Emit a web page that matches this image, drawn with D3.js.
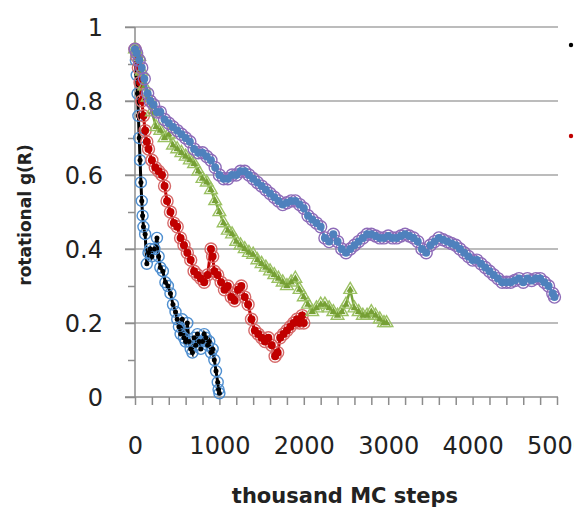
<!DOCTYPE html>
<html>
<head>
<meta charset="utf-8">
<script src="https://cdn.jsdelivr.net/npm/d3@7"></script>
<style>
  body { margin: 0; background: #fff; }
  svg { display: block; }
</style>
</head>
<body>
<script>
var svgWidth = 574;
var svgHeight = 508;

// axis ticks
var yMajor = [0, 0.2, 0.4, 0.6, 0.8, 1];
var yMinor = [0.1, 0.3, 0.5, 0.7, 0.9];
var xTicks = d3.range(0, 5001, 200);
var xLabels = [0, 1000, 2000, 3000, 4000, 5000];

// [thousand MC steps, g(R)]
var seriesBlack = [[0,0.94],[10,0.91],[20,0.87],[30,0.82],[40,0.76],[50,0.70],[60,0.64],[70,0.58],[80,0.53],
  [90,0.49],[100,0.46],[120,0.44],[140,0.36],[160,0.39],[180,0.40],[200,0.38],[230,0.40],[260,0.43],
  [280,0.38],[300,0.35],[330,0.34],[360,0.31],[390,0.30],[420,0.28],[450,0.25],[480,0.23],[500,0.21],
  [520,0.19],[540,0.17],[560,0.21],[580,0.16],[600,0.15],[620,0.20],[640,0.15],[660,0.13],[680,0.12],
  [700,0.16],[720,0.14],[740,0.17],[760,0.15],[780,0.13],[800,0.15],[820,0.17],[840,0.16],[860,0.14],
  [880,0.15],[900,0.12],[920,0.13],[940,0.10],[960,0.07],[980,0.04],[990,0.02],[1000,0.01]];

var seriesRed = [[0,0.94],[20,0.92],[40,0.89],[60,0.85],[80,0.80],[100,0.76],[120,0.72],[140,0.69],
  [160,0.67],[200,0.64],[240,0.62],[280,0.61],[320,0.60],[350,0.57],[380,0.53],[420,0.50],[460,0.47],
  [500,0.46],[540,0.43],[580,0.41],[620,0.39],[660,0.37],[700,0.34],[740,0.33],[780,0.32],[820,0.31],
  [860,0.33],[900,0.40],[920,0.38],[940,0.34],[980,0.33],[1020,0.31],[1060,0.29],[1100,0.30],[1140,0.27],
  [1180,0.26],[1220,0.29],[1260,0.30],[1300,0.27],[1340,0.25],[1380,0.21],[1420,0.18],[1460,0.17],
  [1500,0.16],[1540,0.15],[1580,0.16],[1620,0.14],[1660,0.11],[1690,0.12],[1720,0.16],[1760,0.17],
  [1800,0.18],[1840,0.19],[1880,0.20],[1920,0.21],[1950,0.20],[1980,0.22],[2000,0.20]];

var seriesGreen = [[0,0.94],[25,0.93],[50,0.92],[80,0.88],[110,0.84],[150,0.81],[200,0.77],[250,0.73],
  [300,0.72],[350,0.70],[400,0.71],[450,0.68],[500,0.67],[550,0.66],[600,0.65],[650,0.64],[700,0.63],
  [750,0.61],[800,0.59],[850,0.58],[900,0.56],[950,0.53],[1000,0.50],[1050,0.47],[1100,0.45],[1150,0.44],
  [1200,0.42],[1250,0.41],[1300,0.40],[1350,0.39],[1400,0.385],[1450,0.37],[1500,0.36],[1550,0.35],
  [1600,0.34],[1650,0.33],[1700,0.32],[1750,0.31],[1800,0.30],[1850,0.31],[1900,0.32],[1950,0.29],
  [2000,0.27],[2050,0.25],[2100,0.23],[2150,0.24],[2200,0.25],[2250,0.25],[2300,0.24],[2350,0.23],
  [2400,0.22],[2450,0.23],[2500,0.25],[2550,0.29],[2600,0.24],[2650,0.23],[2700,0.22],[2750,0.22],
  [2800,0.23],[2850,0.22],[2900,0.21],[2950,0.20],[2980,0.20]];

var seriesPurple = [[0,0.94],[20,0.93],[50,0.91],[80,0.89],[110,0.86],[150,0.82],[180,0.80],[220,0.79],
  [260,0.77],[300,0.77],[350,0.75],[400,0.74],[450,0.73],[500,0.72],[550,0.71],[600,0.70],[650,0.69],
  [700,0.67],[750,0.66],[800,0.66],[850,0.65],[900,0.64],[950,0.62],[1000,0.60],[1050,0.59],[1100,0.59],
  [1150,0.60],[1200,0.60],[1250,0.61],[1300,0.61],[1350,0.60],[1400,0.59],[1450,0.58],[1500,0.57],
  [1550,0.56],[1600,0.55],[1650,0.54],[1700,0.53],[1750,0.52],[1800,0.525],[1850,0.53],[1900,0.53],
  [1950,0.52],[2000,0.51],[2050,0.49],[2100,0.48],[2150,0.47],[2200,0.46],[2250,0.43],[2300,0.42],
  [2350,0.44],[2400,0.42],[2450,0.40],[2500,0.39],[2550,0.40],[2600,0.41],[2650,0.42],[2700,0.43],
  [2750,0.44],[2800,0.44],[2850,0.435],[2900,0.43],[2950,0.43],[3000,0.435],[3050,0.43],[3100,0.43],
  [3150,0.435],[3200,0.44],[3250,0.435],[3300,0.43],[3350,0.42],[3400,0.40],[3450,0.39],[3500,0.41],
  [3550,0.42],[3600,0.43],[3650,0.425],[3700,0.42],[3750,0.415],[3800,0.41],[3850,0.40],[3900,0.39],
  [3950,0.38],[4000,0.37],[4050,0.37],[4100,0.36],[4150,0.35],[4200,0.34],[4250,0.33],[4300,0.32],
  [4350,0.31],[4400,0.31],[4450,0.31],[4500,0.315],[4550,0.32],[4600,0.31],[4650,0.32],[4700,0.315],
  [4750,0.32],[4800,0.32],[4850,0.31],[4900,0.30],[4950,0.28],[4970,0.27]];

var x = d3.scaleLinear().domain([0, 5000]).range([135, 557]);
var y = d3.scaleLinear().domain([0, 1]).range([397, 27]);

var svg = d3.select("body").append("svg")
    .attr("width", svgWidth)
    .attr("height", svgHeight)
    .style("font-family", "'DejaVu Sans', sans-serif");

// horizontal gridlines
svg.selectAll(".grid")
    .data(yMajor.filter(d => d > 0)).enter()
    .append("line")
    .attr("x1", 125).attr("x2", 558)
    .attr("y1", d => y(d)).attr("y2", d => y(d))
    .attr("stroke", "#a6a6a6")
    .attr("stroke-width", 1.5);

// y axis
var yAxis = svg.append("g")
    .attr("transform", "translate(135,0)")
    .call(d3.axisLeft(y).tickValues(yMajor).tickSize(10).tickPadding(22)
        .tickFormat(d3.format("~g")));
yAxis.select(".domain").remove();
yAxis.selectAll("line").attr("stroke", "#8c8c8c").attr("stroke-width", 1.5);
yAxis.selectAll("text")
    .attr("font-size", 24).attr("font-family", "'DejaVu Sans', sans-serif")
    .attr("fill", "#222").attr("dy", "0.36em");

var yMinorAxis = svg.append("g")
    .attr("transform", "translate(135,0)")
    .call(d3.axisLeft(y).tickValues(yMinor).tickSize(7).tickFormat(""));
yMinorAxis.select(".domain").remove();
yMinorAxis.selectAll("line").attr("stroke", "#8c8c8c").attr("stroke-width", 1.5);

svg.append("line")
    .attr("x1", 135).attr("x2", 135)
    .attr("y1", y(1)).attr("y2", y(0))
    .attr("stroke", "#8c8c8c").attr("stroke-width", 1.5);

// x axis
var xAxis = svg.append("g")
    .attr("transform", "translate(0,397)")
    .call(d3.axisBottom(x).tickValues(xTicks).tickSize(8).tickPadding(32)
        .tickFormat(d => xLabels.indexOf(d) >= 0 ? d : ""));
xAxis.select(".domain").remove();
xAxis.selectAll("line").attr("stroke", "#8c8c8c").attr("stroke-width", 1.5);
xAxis.selectAll("text")
    .attr("font-size", 24).attr("font-family", "'DejaVu Sans', sans-serif")
    .attr("fill", "#222");

svg.append("line")
    .attr("x1", 125).attr("x2", 558)
    .attr("y1", y(0)).attr("y2", y(0))
    .attr("stroke", "#8c8c8c").attr("stroke-width", 1.5);

// axis titles
svg.append("text")
    .attr("x", 345).attr("y", 503)
    .attr("text-anchor", "middle")
    .attr("font-weight", "bold")
    .attr("font-size", 21)
    .attr("fill", "#222")
    .text("thousand MC steps");

svg.append("text")
    .attr("transform", "translate(31,215) rotate(-90)")
    .attr("text-anchor", "middle")
    .attr("font-weight", "bold")
    .attr("font-size", 17)
    .attr("fill", "#222")
    .text("rotational g(R)");

var line = d3.line().x(d => x(d[0])).y(d => y(d[1]));
var plot = svg.append("g");

function drawSeries(data, lineColor, dotColor, ringColor, dotR, ringR) {
    plot.append("path")
        .datum(data)
        .attr("d", line)
        .attr("fill", "none")
        .attr("stroke", lineColor)
        .attr("stroke-width", 3);
    plot.append("g").selectAll("circle")
        .data(data).enter()
        .append("circle")
        .attr("cx", d => x(d[0])).attr("cy", d => y(d[1]))
        .attr("r", ringR)
        .attr("fill", "none")
        .attr("stroke", ringColor)
        .attr("stroke-width", 1.4);
    plot.append("g").selectAll("circle")
        .data(data).enter()
        .append("circle")
        .attr("cx", d => x(d[0])).attr("cy", d => y(d[1]))
        .attr("r", dotR)
        .attr("fill", dotColor);
}

drawSeries(seriesBlack, "#000", "#000", "#4f8fd0", 2.5, 5.5);
drawSeries(seriesRed, "#c00000", "#c00000", "#d66a6a", 4, 6);

// green triangles
plot.append("path")
    .datum(seriesGreen)
    .attr("d", line)
    .attr("fill", "none")
    .attr("stroke", "#77a33a")
    .attr("stroke-width", 2.5);
var triBig = d3.symbol().type(d3.symbolTriangle).size(70);
var triSmall = d3.symbol().type(d3.symbolTriangle).size(24);
plot.append("g").selectAll("path")
    .data(seriesGreen).enter()
    .append("path")
    .attr("transform", d => "translate(" + x(d[0]) + "," + y(d[1]) + ")")
    .attr("d", triBig)
    .attr("fill", "none")
    .attr("stroke", "#9bc163")
    .attr("stroke-width", 1.4);
plot.append("g").selectAll("path")
    .data(seriesGreen).enter()
    .append("path")
    .attr("transform", d => "translate(" + x(d[0]) + "," + y(d[1]) + ")")
    .attr("d", triSmall)
    .attr("fill", "#76a035");

drawSeries(seriesPurple, "#4f81bd", "#4f81bd", "#8e6bb8", 4, 6);

// legend markers cut by the right edge
svg.append("circle").attr("cx", 571).attr("cy", 45).attr("r", 2.2).attr("fill", "#000");
svg.append("circle").attr("cx", 571).attr("cy", 136).attr("r", 2.2).attr("fill", "#c00000");
</script>
</body>
</html>
